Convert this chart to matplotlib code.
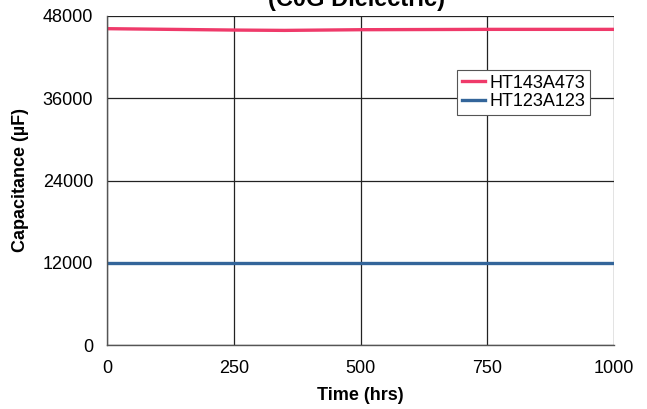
import matplotlib.pyplot as plt
import numpy as np

plt.rcParams['font.family'] = ['Liberation Sans', 'DejaVu Sans']

# ------------------ data ------------------
hours = [0, 250, 350, 500, 750, 1000]
cap_473 = [46150, 45950, 45900, 46000, 46050, 46050]
cap_123 = [11950, 11950, 11950, 11950, 11950, 11950]
xticks = [0, 250, 500, 750, 1000]
yticks = [0, 12000, 24000, 36000, 48000]

fig = plt.figure(figsize=(6.47, 4.09), dpi=100)
ax = fig.add_axes([107/647, 1 - 345/409, (614-107)/647, (345-16)/409])

ax.plot(hours, cap_473, color='#EF3A6A', lw=2.4, label='HT143A473')
ax.plot(hours, cap_123, color='#33659A', lw=2.4, label='HT123A123')

ax.set_xlim(0, 1000)
ax.set_ylim(0, 48000)
ax.set_xticks(xticks)
ax.set_yticks(yticks)
ax.tick_params(length=0, labelsize=13)
ax.tick_params(axis='y', pad=10)
ax.tick_params(axis='x', pad=11)
ax.grid(True, color='#222222', lw=0.9)
ax.set_axisbelow(True)
for s in ['top', 'right']:
    ax.spines[s].set_visible(False)
for s in ['left', 'bottom']:
    ax.spines[s].set_color('#555555')
    ax.spines[s].set_linewidth(1.0)

ax.set_xlabel('Time (hrs)', fontsize=13, fontweight='bold')
ax.set_ylabel('Capacitance (\u00b5F)', fontsize=13, fontweight='bold')
ax.xaxis.set_label_coords(0.5, -(395-345)/329, transform=ax.transAxes)
ax.yaxis.set_label_coords(-(107-21)/507, 0.5, transform=ax.transAxes)
ax.xaxis.label.set_va('center')
ax.yaxis.label.set_va('center')

fig.text(357/647, 1 - 6/409, '(C0G Dielectric)', ha='center', va='baseline',
         fontsize=17, fontweight='bold')

leg = ax.legend(loc='upper left', bbox_to_anchor=((457-107)/507, 1 - (70-16)/329),
                fontsize=13, frameon=True, fancybox=False, framealpha=1,
                edgecolor='#555555', handlelength=1.3, handletextpad=0.25,
                borderpad=0.25, labelspacing=0.1, borderaxespad=0)
leg.get_frame().set_linewidth(0.8)

plt.savefig('out.png', dpi=100)
